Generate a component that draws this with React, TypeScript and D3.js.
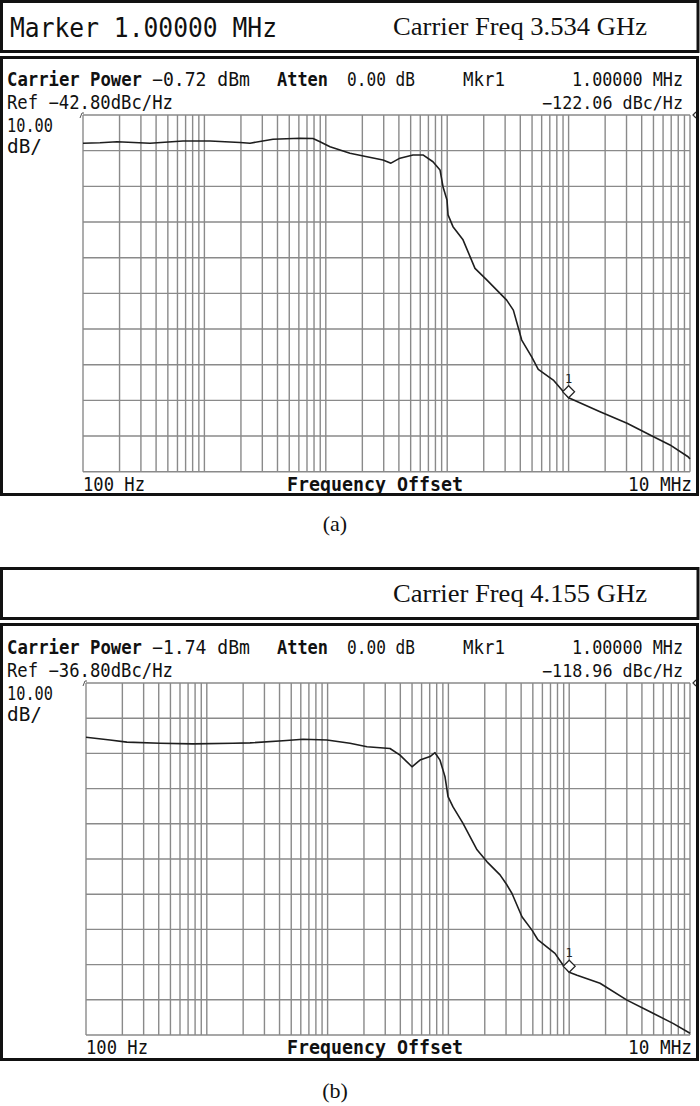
import React from "react";
import * as d3 from "d3";

// ---------- data ----------
const freqA = [100, 138, 191, 356, 666, 1112, 1964, 2376, 3673, 6127, 7846, 8960, 10830, 15820, 21830, 29570, 34420, 40830, 52240, 63140, 76340, 87260, 92320, 99600, 101600, 111600, 135000, 169400, 212700, 272400, 309000, 350600, 411000, 496500, 562600, 748000, 1000000, 1815000, 3030000, 4690000, 6840000, 9640000, 10000000];
const dbA = [-50.7, -50.6, -50.3, -50.7, -50.1, -50.1, -50.5, -50.7, -49.6, -49.3, -49.4, -50.3, -51.7, -53.5, -54.5, -55.4, -56.3, -54.9, -54.0, -54.0, -55.9, -58.2, -62.9, -66.6, -70.8, -74.1, -77.8, -85.8, -89.1, -92.8, -94.7, -97.5, -105.9, -110.6, -114.1, -117.1, -122.06, -126.0, -129.2, -132.5, -135.3, -138.6, -139.2];

const freqB = [100, 158, 218, 410, 769, 1648, 2279, 4272, 6255, 9886, 15320, 21190, 32860, 39750, 49960, 58200, 70440, 77460, 85160, 93680, 99300, 109200, 132100, 172600, 208900, 267500, 305600, 336100, 406400, 491700, 551900, 762600, 888500, 1000000, 1161000, 1800000, 3007000, 4670000, 7230000, 10000000];
const dbB = [-52.2, -53.0, -53.6, -53.9, -54.1, -53.9, -53.8, -53.2, -52.8, -53.0, -53.9, -54.9, -55.4, -57.3, -60.6, -58.7, -57.7, -56.6, -58.7, -63.4, -69.1, -72.0, -76.7, -84.2, -87.6, -91.3, -94.2, -96.6, -103.2, -107.0, -109.8, -113.6, -116.9, -118.96, -119.8, -122.1, -126.9, -130.2, -133.5, -136.3];

const freqDomain = [100, 10000000];
const decadeStarts = [100, 1000, 10000, 100000, 1000000];
const decadeMultipliers = [1, 2, 3, 4, 5, 6, 7, 8, 9];
const divisions = [0, 1, 2, 3, 4, 5, 6, 7, 8, 9, 10];
const dbPerDiv = 10;

const refLevels = [-42.8, -36.8];
const markerFreqs = [1000000, 1000000];
const markerLevels = [-122.06, -118.96];
const carrierPowers = ["\u22120.72 dBm", "\u22121.74 dBm"];
const refLabels = ["Ref \u221242.80dBc/Hz", "Ref \u221236.80dBc/Hz"];
const markerReadouts = ["\u2212122.06 dBc/Hz", "\u2212118.96 dBc/Hz"];
const carrierFreqs = ["Carrier Freq 3.534 GHz", "Carrier Freq 4.155 GHz"];
const headerLeft = ["Marker 1.00000 MHz", ""];
const captions = ["(a)", "(b)"];
const axisLabels = ["100 Hz", "Frequency Offset", "10 MHz"];

const MONO = "'DejaVu Sans Mono', 'Liberation Mono', monospace";
const SERIF = "'Liberation Serif', 'DejaVu Serif', serif";

type Layout = {
  headerTop: number; headerBottom: number; mainTop: number; mainBottom: number;
  x0: number; x1: number; y0: number; y1: number; caption: number;
};

const layouts: Layout[] = [
  { headerTop: 0, headerBottom: 53, mainTop: 56, mainBottom: 496, x0: 83, x1: 690, y0: 115, y1: 471.7, caption: 531 },
  { headerTop: 567, headerBottom: 620, mainTop: 623, mainBottom: 1061, x0: 86, x1: 690, y0: 683, y1: 1035, caption: 1098 },
];

function Panel({ idx, freq, db }: { idx: number; freq: number[]; db: number[] }) {
  const L = layouts[idx];
  const ref = refLevels[idx];
  const x = d3.scaleLog().domain(freqDomain).range([L.x0, L.x1]);
  const y = d3.scaleLinear().domain([ref, ref - dbPerDiv * 10]).range([L.y0, L.y1]);
  const line = d3.line<number>().x((_, i) => x(freq[i])).y((_, i) => y(db[i]));
  const vlines: number[] = [];
  decadeStarts.forEach((d) => decadeMultipliers.forEach((m) => vlines.push(d * m)));
  vlines.push(freqDomain[1]);
  const mx = x(markerFreqs[idx]);
  const my = y(markerLevels[idx]);
  const grid = "#8a8a8a";
  const bw = 3;
  return (
    <g>
      {/* header box */}
      <rect x={bw / 2} y={L.headerTop + bw / 2} width={700 - bw - 0.5} height={L.headerBottom - L.headerTop - bw}
        fill="white" stroke="#111" strokeWidth={bw} />
      {headerLeft[idx] && (
        <text x={10} y={L.headerTop + 37} fontFamily={MONO} fontSize={26} textLength={267} lengthAdjust="spacingAndGlyphs" fill="#111">
          {headerLeft[idx]}
        </text>
      )}
      <text x={393} y={L.headerTop + 35} fontFamily={SERIF} fontSize={26} textLength={254} lengthAdjust="spacingAndGlyphs" fill="#111">
        {carrierFreqs[idx]}
      </text>
      {/* main box */}
      <rect x={bw / 2} y={L.mainTop + bw / 2} width={700 - bw - 1} height={L.mainBottom - L.mainTop - bw}
        fill="white" stroke="#111" strokeWidth={bw} />
      {/* readouts */}
      <g fontFamily={MONO} fontSize={19} fill="#111">
        <text x={7} y={L.y0 - 29} fontWeight="bold" textLength={135} lengthAdjust="spacingAndGlyphs">Carrier Power</text>
        <text x={152} y={L.y0 - 29} textLength={98} lengthAdjust="spacingAndGlyphs">{carrierPowers[idx]}</text>
        <text x={277} y={L.y0 - 29} fontWeight="bold" textLength={51} lengthAdjust="spacingAndGlyphs">Atten</text>
        <text x={347} y={L.y0 - 29} textLength={68} lengthAdjust="spacingAndGlyphs">0.00 dB</text>
        <text x={463} y={L.y0 - 29} textLength={42} lengthAdjust="spacingAndGlyphs">Mkr1</text>
        <text x={572} y={L.y0 - 29} textLength={111} lengthAdjust="spacingAndGlyphs">1.00000 MHz</text>
        <text x={7} y={L.y0 - 6} textLength={166} lengthAdjust="spacingAndGlyphs">{refLabels[idx]}</text>
        <text x={542} y={L.y0 - 6} fontSize={17} textLength={141} lengthAdjust="spacingAndGlyphs">{markerReadouts[idx]}</text>
        <text x={7} y={L.y0 + 17} textLength={46} lengthAdjust="spacingAndGlyphs">10.00</text>
        <text x={7} y={L.y0 + 38} textLength={35} lengthAdjust="spacingAndGlyphs">dB/</text>
        <text x={L.x0} y={L.y1 + 19} textLength={62} lengthAdjust="spacingAndGlyphs">{axisLabels[0]}</text>
        <text x={287} y={L.y1 + 19} fontWeight="bold" textLength={176} lengthAdjust="spacingAndGlyphs">{axisLabels[1]}</text>
        <text x={628} y={L.y1 + 19} textLength={64} lengthAdjust="spacingAndGlyphs">{axisLabels[2]}</text>
      </g>
      {/* grid */}
      <g stroke={grid} strokeWidth={1.4}>
        {vlines.map((f, i) => (
          <line key={"v" + i} x1={x(f)} x2={x(f)} y1={L.y0} y2={L.y1} />
        ))}
        {divisions.map((k) => (
          <line key={"h" + k} x1={L.x0} x2={L.x1} y1={y(ref - dbPerDiv * k)} y2={y(ref - dbPerDiv * k)} />
        ))}
      </g>
      {/* small corner marks */}
      <path d={`M${L.x0 - 3},${L.y0 + 3} L${L.x0 - 1},${L.y0 - 2} L${L.x0 + 1},${L.y0 - 2}`} fill="none" stroke="#555" strokeWidth={1} />
      <path d={`M${L.x1 + 6},${L.y0 - 3} L${L.x1 + 3},${L.y0} L${L.x1 + 6},${L.y0 + 3}`} fill="none" stroke="#333" strokeWidth={1.2} />
      {/* trace */}
      <path d={line(freq) || ""} fill="none" stroke="#1e1e1e" strokeWidth={1.6} strokeLinejoin="round" />
      {/* marker */}
      <path d={`M${mx},${my} L${mx + 6},${my - 6} L${mx},${my - 12} L${mx - 6},${my - 6} Z`} fill="white" stroke="#222" strokeWidth={1.2} />
      <text x={mx} y={my - 15} textAnchor="middle" fontFamily={MONO} fontSize={12} fill="#222">1</text>
      {/* caption */}
      <text x={335} y={L.caption} textAnchor="middle" fontFamily={SERIF} fontSize={22} fill="#111">{captions[idx]}</text>
    </g>
  );
}

export default function App() {
  return (
    <div style={{ position: "absolute", left: 0, top: 0, width: 700, height: 1106, background: "white" }}>
      <svg width={700} height={1106} viewBox="0 0 700 1106" style={{ display: "block" }}>
        <rect x={0} y={0} width={700} height={1106} fill="white" />
        <Panel idx={0} freq={freqA} db={dbA} />
        <Panel idx={1} freq={freqB} db={dbB} />
      </svg>
    </div>
  );
}
